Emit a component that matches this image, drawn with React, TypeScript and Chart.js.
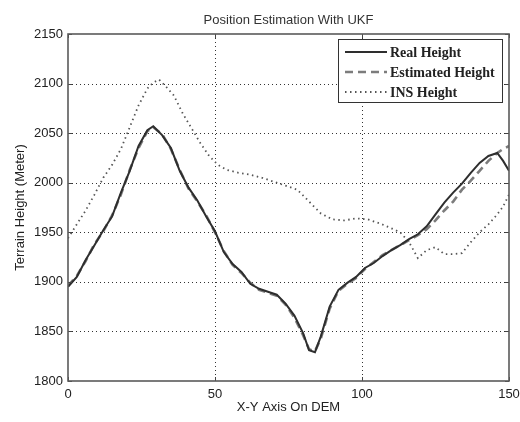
import React, { useEffect, useRef } from "react";
import { Chart, registerables } from "chart.js";

Chart.register(...registerables);

const chartTitle = "Position Estimation With UKF";
const xAxisTitle = "X-Y Axis On DEM";
const yAxisTitle = "Terrain Height (Meter)";
const seriesLabels = ["Real Height", "Estimated Height", "INS Height"];

const xTicks = [0, 50, 100, 150];
const yTicks = [1800, 1850, 1900, 1950, 2000, 2050, 2100, 2150];

const realX = [0, 3, 6, 9, 12, 15, 18, 21, 24, 27, 29, 32, 35, 38, 41, 44, 47, 50, 53, 56, 59, 62, 65, 68, 71, 74, 77, 80, 82, 84, 86, 89, 92, 95, 98, 101, 104, 107, 110, 113, 116, 119, 122, 125, 128, 131, 134, 137, 140, 143, 146, 148, 150];
const realY = [1895, 1905, 1922, 1937, 1952, 1966, 1990, 2012, 2037, 2053, 2057, 2048, 2035, 2012, 1995, 1982, 1966, 1951, 1930, 1918, 1910, 1898, 1893, 1890, 1887, 1878, 1866, 1848, 1831, 1829, 1845, 1875, 1892, 1899, 1905, 1914, 1919, 1926, 1932, 1937, 1943, 1948, 1956, 1968, 1980, 1990, 1999, 2010, 2020, 2027, 2030, 2022, 2012];
const estY = [1896, 1906, 1921, 1938, 1951, 1967, 1988, 2013, 2035, 2052, 2056, 2049, 2034, 2013, 1994, 1981, 1967, 1950, 1931, 1917, 1909, 1899, 1892, 1889, 1886, 1877, 1864, 1846, 1832, 1830, 1843, 1873, 1891, 1898, 1904, 1913, 1920, 1927, 1932, 1937, 1942, 1947, 1953, 1962, 1972, 1981, 1993, 2002, 2012, 2022, 2030, 2034, 2037];

const insX = [0, 3, 6, 9, 12, 15, 18, 21, 24, 27, 29, 31, 33, 36, 39, 42, 45, 48, 51, 54, 58, 62, 66, 70, 74, 78, 82, 86, 90, 94, 98, 102, 106, 110, 113, 116, 119, 122, 125, 128, 131, 134, 137, 140, 143, 146, 148, 150];
const insY = [1944, 1958, 1972, 1988, 2005, 2018, 2034, 2056, 2078, 2095, 2101, 2104, 2098, 2088, 2070, 2055, 2040, 2027, 2018, 2013, 2010, 2008, 2005, 2001, 1997, 1993, 1981, 1969, 1963, 1962, 1964, 1963, 1959, 1954, 1950, 1940, 1924, 1932, 1935, 1928, 1928, 1929, 1940, 1950, 1958, 1968, 1976, 1988];

const sansFont = "'Liberation Sans', Arial, sans-serif";
const serifFont = "'Liberation Serif', 'Times New Roman', serif";

const lineStyles = [
  { color: "#2e2e2e", width: 2, dash: [] as number[] },
  { color: "#7c7c7c", width: 2.6, dash: [8, 5] },
  { color: "#555555", width: 1.8, dash: [1.5, 3.5] },
];

const decorPlugin = {
  id: "decor",
  beforeDatasetsDraw(chart: any) {
    const { ctx, chartArea: a, scales } = chart;
    const xs = scales.x;
    const ys = scales.y;
    ctx.save();
    ctx.strokeStyle = "#333";
    ctx.lineWidth = 1;
    ctx.setLineDash([1, 3]);
    for (const v of xTicks) {
      if (v <= xs.min || v >= xs.max) continue;
      const px = Math.round(xs.getPixelForValue(v)) + 0.5;
      ctx.beginPath();
      ctx.moveTo(px, a.top);
      ctx.lineTo(px, a.bottom);
      ctx.stroke();
    }
    for (const v of yTicks) {
      if (v <= ys.min || v >= ys.max) continue;
      const py = Math.round(ys.getPixelForValue(v)) + 0.5;
      ctx.beginPath();
      ctx.moveTo(a.left, py);
      ctx.lineTo(a.right, py);
      ctx.stroke();
    }
    ctx.restore();
  },
  afterDatasetsDraw(chart: any) {
    const { ctx, chartArea: a, scales } = chart;
    const xs = scales.x;
    const ys = scales.y;
    ctx.save();
    ctx.setLineDash([]);
    ctx.strokeStyle = "#444";
    ctx.lineWidth = 1;
    const tl = 4;
    for (const v of xTicks) {
      const px = Math.round(xs.getPixelForValue(v)) + 0.5;
      ctx.beginPath();
      ctx.moveTo(px, a.bottom);
      ctx.lineTo(px, a.bottom - tl);
      ctx.moveTo(px, a.top);
      ctx.lineTo(px, a.top + tl);
      ctx.stroke();
    }
    for (const v of yTicks) {
      const py = Math.round(ys.getPixelForValue(v)) + 0.5;
      ctx.beginPath();
      ctx.moveTo(a.left, py);
      ctx.lineTo(a.left + tl, py);
      ctx.moveTo(a.right, py);
      ctx.lineTo(a.right - tl, py);
      ctx.stroke();
    }
    ctx.strokeStyle = "#5a5a5a";
    ctx.lineWidth = 1.6;
    ctx.strokeRect(a.left, a.top, a.right - a.left, a.bottom - a.top);

    ctx.fillStyle = "#333";
    ctx.font = `13px ${sansFont}`;
    ctx.textAlign = "center";
    ctx.textBaseline = "middle";
    ctx.fillText(chartTitle, (a.left + a.right) / 2, 20);

    const lx = 338, ly = 39, lw = 164, lh = 63;
    ctx.fillStyle = "#fff";
    ctx.fillRect(lx, ly, lw, lh);
    ctx.strokeStyle = "#333";
    ctx.lineWidth = 1;
    ctx.strokeRect(lx + 0.5, ly + 0.5, lw, lh);
    const rows = [52, 72, 92];
    ctx.font = `bold 14px ${serifFont}`;
    ctx.textAlign = "left";
    ctx.textBaseline = "middle";
    seriesLabels.forEach((lab, i) => {
      const st = lineStyles[i];
      ctx.strokeStyle = st.color;
      ctx.lineWidth = st.width;
      ctx.setLineDash(st.dash);
      ctx.beginPath();
      ctx.moveTo(345, rows[i]);
      ctx.lineTo(387, rows[i]);
      ctx.stroke();
      ctx.setLineDash([]);
      ctx.fillStyle = "#222";
      ctx.fillText(lab, 390, rows[i] + 1);
    });
    ctx.restore();
  },
};

export default function App() {
  const canvasRef = useRef<HTMLCanvasElement | null>(null);

  useEffect(() => {
    const canvas = canvasRef.current;
    if (!canvas) return;
    const toPts = (xv: number[], yv: number[]) => xv.map((x, i) => ({ x, y: yv[i] }));
    const mk = (i: number, data: any[]) => ({
      label: seriesLabels[i],
      data,
      borderColor: lineStyles[i].color,
      borderWidth: lineStyles[i].width,
      borderDash: lineStyles[i].dash,
      pointRadius: 0,
      tension: 0,
      fill: false,
    });
    const chart = new Chart(canvas, {
      type: "line",
      data: {
        datasets: [mk(0, toPts(realX, realY)), mk(1, toPts(realX, estY)), mk(2, toPts(insX, insY))],
      },
      options: {
        animation: false,
        responsive: false,
        devicePixelRatio: 1,
        layout: { padding: { top: 34, right: 11, left: 0, bottom: 0 } },
        plugins: {
          legend: { display: false },
          title: { display: false },
          tooltip: { enabled: false },
        },
        scales: {
          x: {
            type: "linear",
            min: 0,
            max: 150,
            grid: { display: false, drawTicks: false },
            border: { display: false },
            ticks: {
              stepSize: 50,
              color: "#222",
              font: { family: sansFont, size: 13 },
              padding: 6,
              maxRotation: 0,
              callback: (v: any) => String(v),
            },
            title: {
              display: true,
              text: xAxisTitle,
              color: "#222",
              font: { family: sansFont, size: 13 },
              padding: { top: 0, bottom: 7 },
            },
            afterFit: (s: any) => {
              s.height = 41;
              s.paddingLeft = 0;
              s.paddingRight = 0;
            },
          },
          y: {
            type: "linear",
            min: 1800,
            max: 2150,
            grid: { display: false, drawTicks: false },
            border: { display: false },
            ticks: {
              stepSize: 50,
              color: "#222",
              font: { family: sansFont, size: 13 },
              padding: 5,
              callback: (v: any) => String(v),
            },
            title: {
              display: true,
              text: yAxisTitle,
              color: "#222",
              font: { family: sansFont, size: 13 },
              padding: { top: 13, bottom: 0 },
            },
            afterFit: (s: any) => {
              s.width = 68;
              s.paddingTop = 0;
              s.paddingBottom = 0;
            },
          },
        },
      },
      plugins: [decorPlugin],
    } as any);
    return () => chart.destroy();
  }, []);

  return (
    <div style={{ position: "absolute", left: 0, top: 0, width: 520, height: 422, background: "#fff" }}>
      <canvas ref={canvasRef} width={520} height={422} />
    </div>
  );
}
